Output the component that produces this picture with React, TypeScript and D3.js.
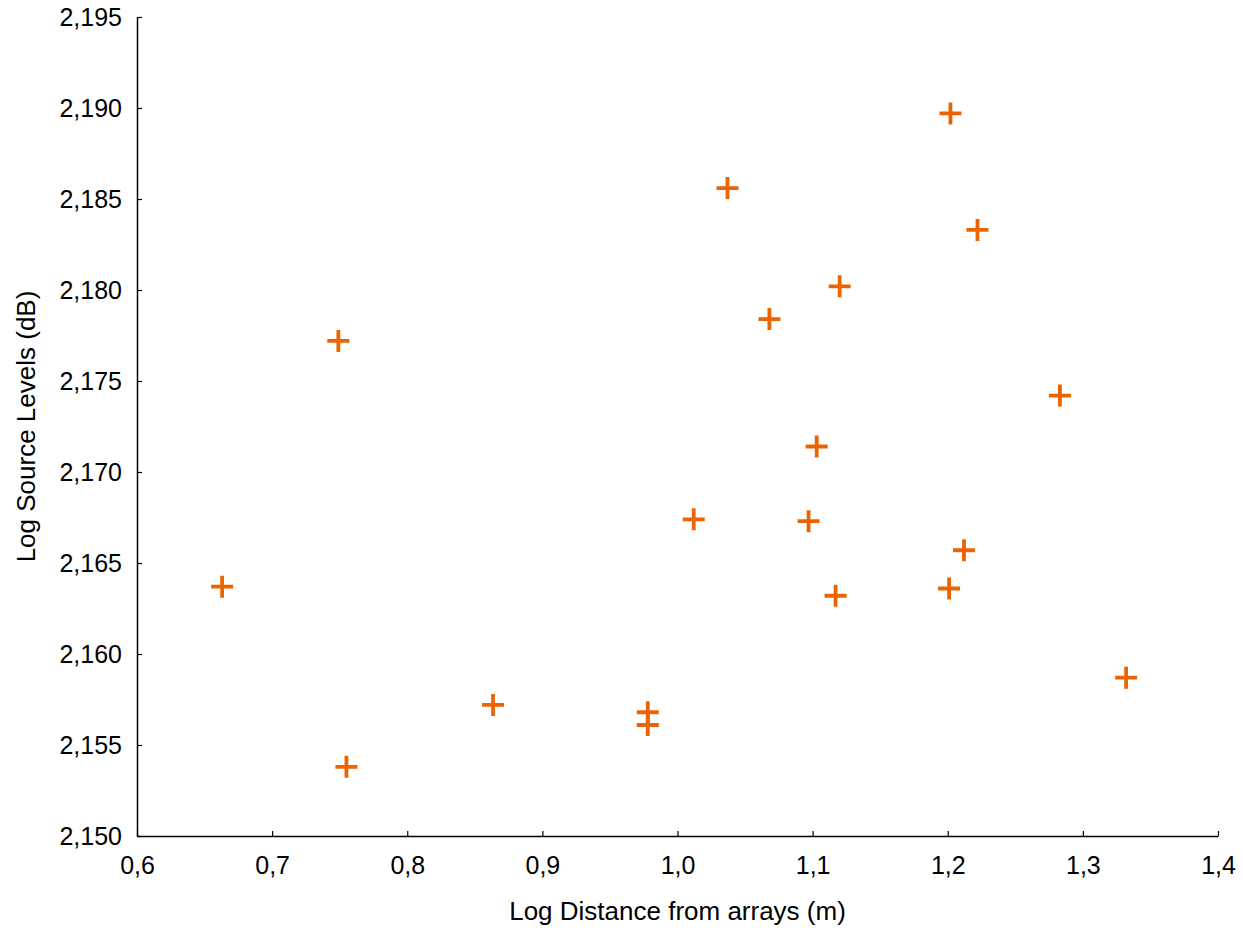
import React from "react";
import * as d3 from "d3";

// values
const logDistance = [
  0.663, 0.749, 0.755, 0.8635, 0.978, 0.978, 1.012, 1.037, 1.068, 1.097,
  1.103, 1.12, 1.117, 1.202, 1.222, 1.201, 1.212, 1.283, 1.332,
];
const logSourceLevel = [
  2.1637, 2.1772, 2.1538, 2.1572, 2.1568, 2.1561, 2.1674, 2.1856, 2.1784,
  2.1673, 2.1714, 2.1802, 2.1632, 2.1897, 2.1833, 2.1636, 2.1657, 2.1742,
  2.1587,
];
const xTicks = [0.6, 0.7, 0.8, 0.9, 1.0, 1.1, 1.2, 1.3, 1.4];
const yTicks = [2.15, 2.155, 2.16, 2.165, 2.17, 2.175, 2.18, 2.185, 2.19, 2.195];

const width = 1243;
const height = 931;
const margin = { left: 137, right: 25, top: 17, bottom: 95 };
const font = "Liberation Sans, Arial, sans-serif";
const orange = "#eb6400";

export default function App() {
  const ref = React.useRef<SVGSVGElement>(null);

  React.useEffect(() => {
    const svg = d3.select(ref.current);
    svg.selectAll("*").remove();

    const x = d3
      .scaleLinear()
      .domain([0.6, 1.4])
      .range([margin.left, width - margin.right]);
    const y = d3
      .scaleLinear()
      .domain([2.15, 2.195])
      .range([height - margin.bottom, margin.top]);

    const comma = (s: string) => s.replace(".", ",");

    // x axis, ticks pointing inward
    const gx = svg
      .append("g")
      .attr("transform", `translate(0,${y(2.15)})`)
      .call(
        d3
          .axisBottom(x)
          .tickValues(xTicks)
          .tickSizeInner(-5)
          .tickSizeOuter(0)
          .tickPadding(20)
          .tickFormat((d) => comma(d3.format(".1f")(d as number)))
      );
    gx.select(".domain").attr("stroke", "#000").attr("stroke-width", 1.5);
    gx.selectAll(".tick line").attr("stroke-width", 1.2);
    gx.selectAll("text")
      .style("font-family", font)
      .style("font-size", "25px")
      .attr("fill", "#000");

    const gy = svg
      .append("g")
      .attr("transform", `translate(${x(0.6)},0)`)
      .call(
        d3
          .axisLeft(y)
          .tickValues(yTicks)
          .tickSizeInner(-5)
          .tickSizeOuter(0)
          .tickPadding(15)
          .tickFormat((d) => comma(d3.format(".3f")(d as number)))
      );
    gy.select(".domain").attr("stroke", "#000").attr("stroke-width", 1.5);
    gy.selectAll(".tick line").attr("stroke-width", 1.2);
    gy.selectAll("text")
      .style("font-family", font)
      .style("font-size", "25px")
      .attr("fill", "#000");

    // axis titles
    svg
      .append("text")
      .attr("x", (x(0.6) + x(1.4)) / 2)
      .attr("y", 920)
      .attr("text-anchor", "middle")
      .style("font-family", font)
      .style("font-size", "26px")
      .text("Log Distance from arrays (m)");

    svg
      .append("text")
      .attr("transform", `translate(35,${(y(2.15) + y(2.195)) / 2}) rotate(-90)`)
      .attr("text-anchor", "middle")
      .style("font-family", font)
      .style("font-size", "26px")
      .text("Log Source Levels (dB)");

    // plus markers
    const pts = logDistance.map((d, i) => ({ x: d, y: logSourceLevel[i] }));
    const arm = 11;
    svg
      .append("g")
      .selectAll("path")
      .data(pts)
      .enter()
      .append("path")
      .attr(
        "d",
        (d) =>
          `M${x(d.x) - arm},${y(d.y)}H${x(d.x) + arm}M${x(d.x)},${y(d.y) - arm}V${y(d.y) + arm}`
      )
      .attr("stroke", orange)
      .attr("stroke-width", 3.8)
      .attr("fill", "none");
  }, []);

  return (
    <svg
      ref={ref}
      width={width}
      height={height}
      style={{ position: "absolute", left: 0, top: 0, background: "#fff" }}
    />
  );
}
